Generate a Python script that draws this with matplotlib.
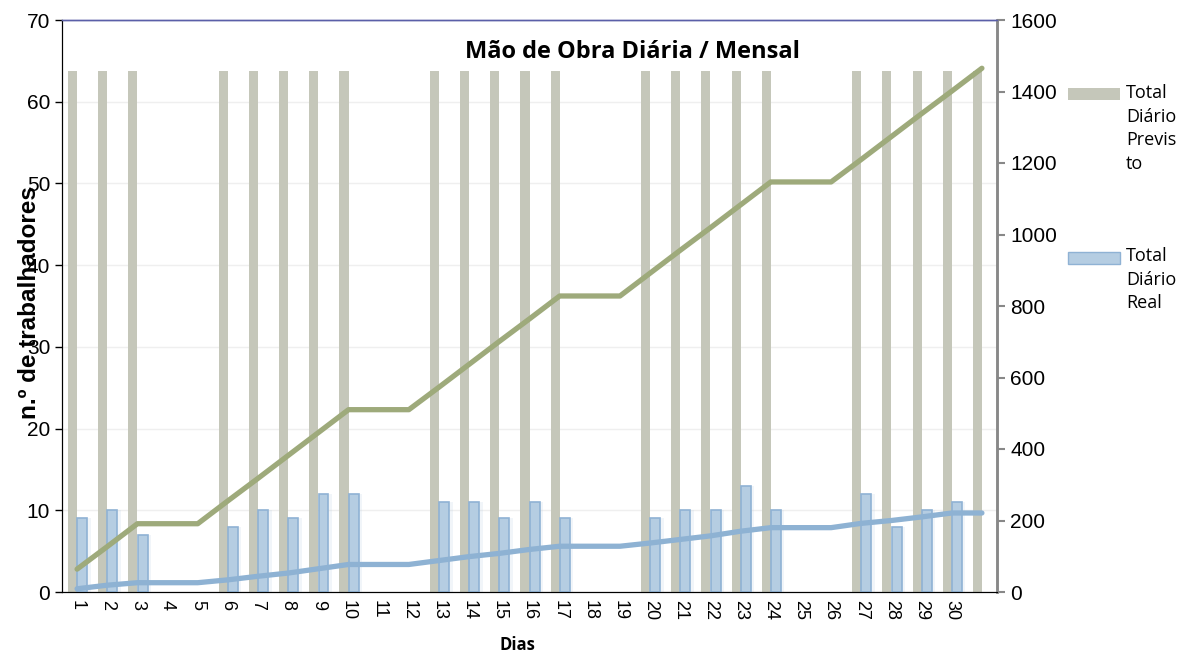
import numpy as np
import matplotlib
matplotlib.use("Agg")
import matplotlib.pyplot as plt
from matplotlib.patches import Rectangle

plt.rcParams['font.family'] = ['Liberation Sans', 'DejaVu Sans']

# data (day 31 has a bar but no label)
days = list(range(1, 32))
day_labels = [str(d) for d in range(1, 31)] + ['']
previsto = [63.7, 63.7, 63.7, 0, 0, 63.7, 63.7, 63.7, 63.7, 63.7, 0, 0, 63.7, 63.7, 63.7,
            63.7, 63.7, 0, 0, 63.7, 63.7, 63.7, 63.7, 63.7, 0, 0, 63.7, 63.7, 63.7, 63.7, 63.7]
real = [9, 10, 7, 0, 0, 8, 10, 9, 12, 12, 0, 0, 11, 11, 9, 11, 9, 0, 0,
        9, 10, 10, 13, 10, 0, 0, 12, 8, 10, 11, 0]
acum_previsto = [64, 127, 191, 191, 191, 255, 318, 382, 446, 510, 510, 510, 573, 637,
                 701, 764, 828, 828, 828, 892, 956, 1019, 1083, 1147, 1147, 1147,
                 1210, 1274, 1338, 1401, 1465]
acum_real = [9, 19, 26, 26, 26, 34, 44, 53, 65, 77, 77, 77, 88, 99, 108, 119, 128,
             128, 128, 137, 147, 157, 170, 180, 180, 180, 192, 200, 210, 221, 221]

c_gray = '#C5C7BA'
c_blue_fill = '#B5CDE2'
c_blue_edge = '#8FB2D4'
c_green = '#9EAA7B'
c_blue_line = '#8EB2D3'

fig = plt.figure(figsize=(11.79, 6.54), dpi=100)
ax = fig.add_axes([62/1179, 1-592/654, (997-62)/1179, (592-20)/654])
ax2 = ax.twinx()

x = np.array(days)
prev = np.array(previsto)
rl = np.array(real)
mp = prev > 0
mr = rl > 0
ax.bar(x[mp] - 0.15, prev[mp], width=0.30, color=c_gray, zorder=2)
# soft shadow behind the real bars
ax.bar(x[mr] + 0.24, rl[mr], width=0.42, color=c_blue_fill, alpha=0.18, linewidth=0, zorder=2)
ax.bar(x[mr] + 0.17, rl[mr], width=0.33, color=c_blue_fill, edgecolor=c_blue_edge,
       linewidth=1.2, zorder=3)

ax2.plot(x, acum_previsto, color=c_green, linewidth=3.8, solid_capstyle='round')
ax2.plot(x, acum_real, color=c_blue_line, linewidth=3.8, solid_capstyle='round')

ax.set_xlim(0.5, 31.5)
ax.set_ylim(0, 70)
ax2.set_ylim(0, 1600)
ax.set_yticks(range(0, 71, 10))
ax2.set_yticks(range(0, 1601, 200))
ax.set_xticks(x)
ax.set_xticklabels(day_labels, rotation=270, fontsize=13)
ax.tick_params(axis='x', length=0, pad=6)
ax.tick_params(axis='y', labelsize=15, length=5, width=1, color='black')
ax2.tick_params(axis='y', labelsize=15, length=6, width=1.5, color='#888888')
ax.yaxis.grid(True, color='#EFEFEF', linewidth=1, zorder=0)
ax.set_axisbelow(True)

for a in (ax, ax2):
    a.spines['top'].set_color('#5A5FA8')
    a.spines['top'].set_linewidth(1.0)
    a.spines['left'].set_color('black')
    a.spines['bottom'].set_color('black')
    a.spines['right'].set_color('#888888')
    a.spines['right'].set_linewidth(1.8)

fig.text(632/1179, 1-52/654, 'Mão de Obra Diária / Mensal', fontsize=17,
         fontweight='bold', ha='center', va='center',
         family=['Open Sans', 'DejaVu Sans'])
fig.text(30/1179, 1-303/654, 'n.º de trabalhadores', fontsize=17.5, fontweight='bold',
         rotation=90, ha='center', va='center')
fig.text(517/1179, 1-645/654, 'Dias', fontsize=12, fontweight='bold',
         ha='center', va='center', family=['Open Sans', 'DejaVu Sans'])

# legend on the right, built by hand to keep the wrapped labels
fig.patches.append(Rectangle((1068/1179, 1-100/654), 52/1179, 12/654,
                             transform=fig.transFigure, facecolor=c_gray,
                             edgecolor='none'))
fig.text(1126/1179, 1-84/654, 'Total\nDiário\nPrevis\nto', fontsize=13,
         ha='left', va='top', linespacing=1.4, family=['Open Sans', 'DejaVu Sans'])
fig.patches.append(Rectangle((1068/1179, 1-264/654), 52/1179, 12/654,
                             transform=fig.transFigure, facecolor=c_blue_fill,
                             edgecolor=c_blue_edge, linewidth=1))
fig.text(1126/1179, 1-247/654, 'Total\nDiário\nReal', fontsize=13,
         ha='left', va='top', linespacing=1.4, family=['Open Sans', 'DejaVu Sans'])

plt.savefig('out.png', dpi=100)
